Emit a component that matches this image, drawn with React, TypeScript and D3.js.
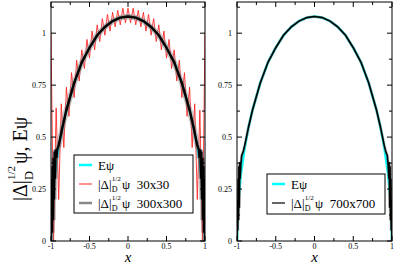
import React, { useEffect, useRef } from "react";
import * as d3 from "d3";

// smooth curve E psi (symmetric about 0)
const ePsiX = [-1, -0.99, -0.975, -0.95, -0.9, -0.85, -0.8, -0.7, -0.6, -0.5, -0.4, -0.3, -0.2, -0.1, 0,
  0.1, 0.2, 0.3, 0.4, 0.5, 0.6, 0.7, 0.8, 0.85, 0.9, 0.95, 0.975, 0.99, 1];
const ePsiY = [0, 0.13, 0.22, 0.32, 0.45, 0.55, 0.63, 0.76, 0.86, 0.93, 0.99, 1.03, 1.058, 1.075, 1.08,
  1.075, 1.058, 1.03, 0.99, 0.93, 0.86, 0.76, 0.63, 0.55, 0.45, 0.32, 0.22, 0.13, 0];

// 30x30 result, one value per grid node (x = -1 + i/30)
const grid30 = d3.range(61).map(i => -1 + i / 30);
const red30 = [1.0, 0.0, 0.64, 0.2, 0.66, 0.45, 0.74, 0.6, 0.81, 0.69, 0.87, 0.77, 0.92, 0.83, 0.97, 0.88,
  1.01, 0.92, 1.04, 0.96, 1.07, 0.99, 1.09, 1.01, 1.1, 1.03, 1.11, 1.04, 1.12, 1.05, 1.12,
  1.05, 1.12, 1.04, 1.11, 1.03, 1.1, 1.01, 1.09, 0.99, 1.07, 0.96, 1.04, 0.92, 1.01,
  0.88, 0.97, 0.83, 0.92, 0.77, 0.87, 0.69, 0.81, 0.6, 0.74, 0.45, 0.66, 0.2, 0.63, 0.0, 1.0];

// 300x300 result
const black300X = [-1, -0.993, -0.987, -0.98, -0.973, -0.967, -0.96, -0.953, -0.947, -0.94, -0.93, -0.92, -0.9,
  -0.85, -0.8, -0.7, -0.6, -0.5, -0.4, -0.3, -0.2, -0.1, 0, 0.1, 0.2, 0.3, 0.4, 0.5, 0.6, 0.7, 0.8, 0.85,
  0.9, 0.92, 0.93, 0.94, 0.947, 0.953, 0.96, 0.967, 0.973, 0.98, 0.987, 0.993, 1];
const black300Y = [0, 0.3, 0.04, 0.36, 0.1, 0.4, 0.2, 0.43, 0.3, 0.44, 0.4, 0.44, 0.46,
  0.55, 0.63, 0.76, 0.86, 0.93, 0.99, 1.03, 1.058, 1.075, 1.08, 1.075, 1.058, 1.03, 0.99, 0.93, 0.86, 0.76, 0.63, 0.55,
  0.46, 0.44, 0.4, 0.44, 0.3, 0.43, 0.2, 0.4, 0.1, 0.36, 0.04, 0.3, 0];

// 700x700 result
const black700X = [-1, -0.995, -0.99, -0.985, -0.98, -0.975, -0.97, -0.965, -0.96, -0.95, -0.94, -0.92, -0.9,
  -0.85, -0.8, -0.7, -0.6, -0.5, -0.4, -0.3, -0.2, -0.1, 0, 0.1, 0.2, 0.3, 0.4, 0.5, 0.6, 0.7, 0.8, 0.85,
  0.9, 0.92, 0.94, 0.95, 0.96, 0.965, 0.97, 0.975, 0.98, 0.985, 0.99, 0.995, 1];
const black700Y = [0, 0.2, 0.05, 0.3, 0.1, 0.36, 0.16, 0.38, 0.3, 0.37, 0.41, 0.43, 0.46,
  0.55, 0.63, 0.76, 0.86, 0.93, 0.99, 1.03, 1.058, 1.075, 1.08, 1.075, 1.058, 1.03, 0.99, 0.93, 0.86, 0.76, 0.63, 0.55,
  0.46, 0.43, 0.41, 0.37, 0.3, 0.38, 0.16, 0.36, 0.1, 0.3, 0.05, 0.2, 0];

const xMajor = [-1, -0.5, 0, 0.5, 1];
const xMinor = [-0.75, -0.25, 0.25, 0.75];
const yMajor = [0, 0.25, 0.5, 0.75, 1];
const yMinor = [0.125, 0.375, 0.625, 0.875, 1.125];
const xTickLabels = ["-1", "-0.5", "0", "0.5", "1"];
const yTickLabels = ["0", "0.25", "0.5", "0.75", "1"];

const CYAN = "#00ffff";
const RED = "#ff2020";
const FONT = "Liberation Serif, serif";

function drawPanel(svg: any, left: number, right: number, top: number, bottom: number) {
  const x = d3.scaleLinear().domain([-1, 1]).range([left, right]);
  const y = d3.scaleLinear().domain([0, 1.15]).range([bottom, top]);
  const g = svg.append("g");
  const clip = "clip" + left;
  svg.append("clipPath").attr("id", clip).append("rect")
    .attr("x", left).attr("y", top).attr("width", right - left).attr("height", bottom - top);
  const plot = g.append("g").attr("clip-path", `url(#${clip})`);
  // frame
  g.append("rect").attr("x", left).attr("y", top).attr("width", right - left).attr("height", bottom - top)
    .attr("fill", "none").attr("stroke", "#000").attr("stroke-width", 1);
  const tk = (v: number, len: number) => {
    g.append("line").attr("x1", x(v)).attr("x2", x(v)).attr("y1", bottom).attr("y2", bottom - len).attr("stroke", "#000");
    g.append("line").attr("x1", x(v)).attr("x2", x(v)).attr("y1", top).attr("y2", top + len).attr("stroke", "#000");
  };
  const tky = (v: number, len: number) => {
    g.append("line").attr("y1", y(v)).attr("y2", y(v)).attr("x1", left).attr("x2", left + len).attr("stroke", "#000");
    g.append("line").attr("y1", y(v)).attr("y2", y(v)).attr("x1", right).attr("x2", right - len).attr("stroke", "#000");
  };
  xMajor.forEach(v => tk(v, 5));
  xMinor.forEach(v => tk(v, 3));
  yMajor.forEach(v => tky(v, 5));
  yMinor.forEach(v => tky(v, 3));
  xMajor.forEach((v, i) => {
    g.append("text").attr("x", x(v)).attr("y", bottom + 7.5).attr("text-anchor", "middle")
      .attr("font-family", FONT).attr("font-size", 8).text(xTickLabels[i]);
  });
  yMajor.forEach((v, i) => {
    g.append("text").attr("x", left - 5).attr("y", y(v) + 3).attr("text-anchor", "end")
      .attr("font-family", FONT).attr("font-size", 8).text(yTickLabels[i]);
  });
  g.append("text").attr("x", (left + right) / 2).attr("y", bottom + 21).attr("text-anchor", "middle")
    .attr("font-family", FONT).attr("font-style", "italic").attr("font-size", 15).text("x");
  return { x, y, plot, g };
}

function lineOf(x: any, y: any, xs: number[], ys: number[]) {
  return d3.line<number>().x((_, i) => x(xs[i])).y(d => y(d))(ys);
}

function deltaLabel(g: any, x0: number, yb: number, size: number) {
  g.append("text").attr("x", x0).attr("y", yb).attr("font-family", FONT).attr("font-size", size).text("|Δ|");
  const w = size * 1.05;
  g.append("text").attr("x", x0 + w).attr("y", yb + size * 0.3).attr("font-family", FONT)
    .attr("font-size", size * 0.62).text("D");
  g.append("text").attr("x", x0 + w).attr("y", yb - size * 0.6).attr("font-family", FONT)
    .attr("font-size", size * 0.55).text("1/2");
  return x0 + w + size * 0.8;
}

function legend(g: any, bx: number, by: number, bw: number, bh: number, rows: { color: string; width: number; label: string | null; res?: string }[], rowY: number[]) {
  g.append("rect").attr("x", bx).attr("y", by).attr("width", bw).attr("height", bh)
    .attr("fill", "#fff").attr("stroke", "#000").attr("stroke-width", 1);
  rows.forEach((r, i) => {
    const yy = rowY[i];
    g.append("line").attr("x1", bx + 5).attr("x2", bx + 18).attr("y1", yy).attr("y2", yy)
      .attr("stroke", r.color).attr("stroke-width", r.width);
    if (r.label) {
      g.append("text").attr("x", bx + 24).attr("y", yy + 4.5).attr("font-family", FONT).attr("font-size", 13).text(r.label);
    } else {
      const nx = deltaLabel(g, bx + 24, yy + 4.5, 13);
      g.append("text").attr("x", nx).attr("y", yy + 4.5).attr("font-family", FONT).attr("font-size", 13)
        .attr("xml:space", "preserve").text("ψ  " + r.res);
    }
  });
}

export default function App() {
  const ref = useRef<SVGSVGElement>(null);
  useEffect(() => {
    const svg = d3.select(ref.current);
    svg.selectAll("*").remove();
    svg.append("rect").attr("width", 395).attr("height", 264).attr("fill", "#fff");

    // left panel
    const L = drawPanel(svg, 51, 205, 2, 241);
    L.plot.append("path").attr("d", lineOf(L.x, L.y, ePsiX, ePsiY)).attr("fill", "none")
      .attr("stroke", CYAN).attr("stroke-width", 2.5);
    L.plot.append("path").attr("d", lineOf(L.x, L.y, grid30, red30)).attr("fill", "none")
      .attr("stroke", RED).attr("stroke-width", 1).attr("stroke-opacity", 0.85);
    L.plot.append("path").attr("d", lineOf(L.x, L.y, black300X, black300Y)).attr("fill", "none")
      .attr("stroke", "#777").attr("stroke-width", 5.5).attr("stroke-opacity", 0.45);
    L.plot.append("path").attr("d", lineOf(L.x, L.y, black300X, black300Y)).attr("fill", "none")
      .attr("stroke", "#000").attr("stroke-width", 2.4);
    legend(L.g, 74, 155, 119, 58, [
      { color: CYAN, width: 2.5, label: "Eψ" },
      { color: RED, width: 1, label: null, res: "30x30" },
      { color: "#888", width: 2.5, label: null, res: "300x300" },
    ], [165, 184, 203]);

    // right panel
    const R = drawPanel(svg, 237, 392, 2, 241);
    R.plot.append("path").attr("d", lineOf(R.x, R.y, ePsiX, ePsiY)).attr("fill", "none")
      .attr("stroke", CYAN).attr("stroke-width", 2.4);
    R.plot.append("path").attr("d", lineOf(R.x, R.y, black700X, black700Y)).attr("fill", "none")
      .attr("stroke", "#777").attr("stroke-width", 3).attr("stroke-opacity", 0.4);
    R.plot.append("path").attr("d", lineOf(R.x, R.y, black700X, black700Y)).attr("fill", "none")
      .attr("stroke", "#000").attr("stroke-width", 1.6);
    legend(R.g, 267, 174, 118, 40, [
      { color: CYAN, width: 2.5, label: "Eψ" },
      { color: "#333", width: 1.5, label: null, res: "700x700" },
    ], [184, 203]);

    // y axis title
    const yl = svg.append("g").attr("transform", "translate(27,201) rotate(-90)");
    const nx = deltaLabel(yl, 0, 0, 20);
    yl.append("text").attr("x", nx).attr("y", 0).attr("font-family", FONT).attr("font-size", 20).text("ψ, Eψ");
  }, []);
  return (
    <svg ref={ref} width={395} height={264} style={{ position: "absolute", left: 0, top: 0 }} />
  );
}
